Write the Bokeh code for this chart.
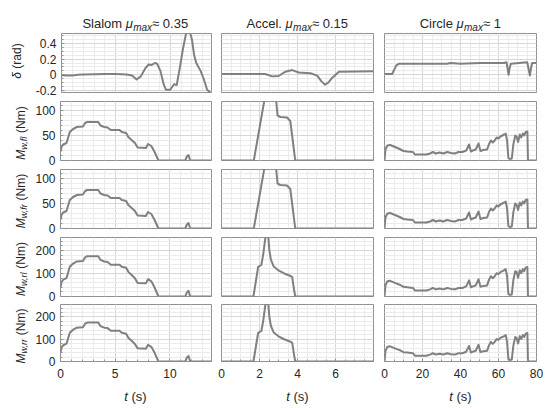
import numpy as np
from bokeh.plotting import figure
from bokeh.layouts import column, row
from bokeh.models import Label, FixedTicker, Range1d
from bokeh.embed import file_html
from bokeh.resources import INLINE

# ---------------- data ----------------
# Slalom
slalom_t_delta = [0, 0.5, 1.0, 1.5, 2, 3, 4, 5, 6, 6.5, 6.9, 7.3, 7.7, 8.0, 8.3, 8.6, 8.8, 9.1,
                  9.4, 9.6, 10.0, 10.2, 10.35, 10.6, 10.9, 11.2, 11.5, 11.8, 12.0, 12.2, 12.4,
                  12.8, 13.1, 13.4, 13.8]
slalom_delta = [-0.005, -0.01, -0.01, 0.0, 0.005, 0.008, 0.01, 0.01, 0.005, -0.01, -0.06, -0.02,
                0.08, 0.13, 0.125, 0.15, 0.14, 0.05, -0.12, -0.19, -0.19, -0.15, -0.12, -0.13,
                0.1, 0.35, 0.55, 0.55, 0.45, 0.25, 0.15, 0.05, -0.06, -0.19, -0.24]
slalom_t_M = [0, 0.1, 0.25, 0.55, 0.85, 1.15, 1.5, 2.05, 2.25, 2.45, 3.45, 3.65, 4.0, 4.3, 4.6,
              5.4, 5.6, 6.0, 6.2, 6.5, 6.8, 7.05, 7.8, 8.0, 8.3, 8.6, 8.95, 11.4, 11.55, 11.7,
              11.85, 13.8]
slalom_Mfl = [18, 28, 32, 35, 57, 63, 67, 68, 75, 77, 77, 70, 67, 66, 61, 61, 57, 55, 47, 41, 35,
              26, 25, 33, 29, 17, 0, 0, 8, 11, 0, 0]
slalom_Mfr = [18, 28, 32, 35, 57, 63, 67, 68, 75, 77, 77, 70, 67, 66, 61, 61, 57, 55, 47, 41, 35,
              26, 25, 33, 29, 17, 0, 0, 8, 11, 0, 0]
slalom_Mrl = [41, 64, 73, 80, 129, 143, 152, 154, 170, 175, 175, 159, 152, 150, 138, 138, 129,
              125, 107, 93, 79, 59, 57, 75, 66, 39, 0, 0, 18, 25, 0, 0]
slalom_Mrr = [41, 64, 73, 80, 129, 143, 152, 154, 170, 175, 175, 159, 152, 150, 138, 138, 129,
              125, 107, 93, 79, 59, 57, 75, 66, 39, 0, 0, 18, 25, 0, 0]

# Acceleration
accel_t_delta = [0, 2.3, 2.67, 3.0, 3.37, 3.72, 4.07, 4.68, 5.04, 5.25, 5.44, 5.62, 5.82, 6.18, 8.0]
accel_delta = [0.01, 0.01, -0.02, -0.015, 0.04, 0.06, 0.03, 0.02, -0.01, -0.08, -0.125, -0.1,
               -0.04, 0.04, 0.045]
accel_t_Mf = [0, 1.7, 2.3, 2.85, 2.95, 3.1, 3.45, 3.62, 3.75, 3.88, 8]
accel_Mfl = [0, 0, 130, 130, 90, 87, 86, 79, 40, 0, 0]
accel_Mfr = [0, 0, 130, 130, 90, 87, 86, 79, 40, 0, 0]
accel_t_Mr = [0, 1.68, 1.93, 2.1, 2.2, 2.3, 2.38, 2.45, 2.52, 2.6, 2.75, 3.0, 3.3, 3.6, 3.72,
              3.8, 3.88, 8]
accel_Mrl = [0, 0, 129, 137, 185, 250, 275, 270, 200, 160, 130, 113, 100, 90, 85, 40, 0, 0]
accel_Mrr = [0, 0, 129, 137, 185, 250, 275, 270, 200, 160, 130, 113, 100, 90, 85, 40, 0, 0]

# Circle
circle_t_delta = [0, 4.0, 5.0, 6.2, 7.5, 20, 33, 34.7, 40, 50.5, 62.8, 64.2, 64.8, 65.3, 65.8,
                  66.5, 75.1, 75.8, 76.5, 77.1, 77.7, 80]
circle_delta = [0.01, 0.01, 0.06, 0.12, 0.14, 0.14, 0.14, 0.15, 0.14, 0.15, 0.15, 0.16, 0.08,
                0.0, 0.08, 0.14, 0.16, 0.08, -0.01, 0.08, 0.15, 0.15]
circle_t_M = [0, 0.5, 1.5, 3, 5.5, 8, 10, 12, 15, 16, 22, 24, 25.5, 27, 29, 31, 33, 35, 37, 39,
              41, 43, 44.5, 45.5, 46.5, 48, 49.5, 50.5, 52, 54, 55, 56, 57, 58, 59, 60, 61, 62,
              63, 63.8, 64.5, 65.2, 66, 67, 67.8, 68.8, 69.5, 70.3, 71.2, 72, 72.8, 73.5, 74.3,
              75.2, 75.5, 80]
circle_Mfl = [0, 22, 30, 31, 27, 23, 19, 18, 17, 12, 12, 14, 17, 14, 16, 14, 17, 15, 14, 17, 17,
              20, 32, 18, 20, 22, 34, 19, 21, 22, 33, 40, 36, 40, 46, 44, 48, 50, 52, 54, 40, 5,
              3, 4, 32, 50, 48, 37, 52, 46, 54, 50, 57, 58, 0, 0]
circle_Mfr = [0, 22, 30, 31, 27, 23, 19, 18, 17, 12, 12, 14, 17, 14, 16, 14, 17, 15, 14, 17, 17,
              20, 32, 18, 20, 22, 34, 19, 21, 22, 33, 40, 36, 40, 46, 44, 48, 50, 52, 54, 40, 5,
              3, 4, 32, 50, 48, 37, 52, 46, 54, 50, 57, 58, 0, 0]
circle_Mrl = [0, 48, 66, 68, 59, 51, 42, 40, 37, 26, 26, 31, 37, 31, 35, 31, 37, 33, 31, 37, 37,
              44, 70, 40, 44, 48, 75, 42, 46, 48, 73, 88, 79, 88, 101, 97, 106, 110, 114, 119,
              88, 11, 7, 9, 70, 110, 106, 81, 114, 101, 119, 110, 125, 128, 0, 0]
circle_Mrr = [0, 48, 66, 68, 59, 51, 42, 40, 37, 26, 26, 31, 37, 31, 35, 31, 37, 33, 31, 37, 37,
              44, 70, 40, 44, 48, 75, 42, 46, 48, 73, 88, 79, 88, 101, 97, 106, 110, 114, 119,
              88, 11, 7, 9, 70, 110, 106, 81, 114, 101, 119, 110, 125, 128, 0, 0]

# titles / labels / ticks
col_title_pre = ["Slalom", "Accel.", "Circle"]
col_title_post = ["\u2248 0.35", "\u2248 0.15", "\u2248 1"]
y_label_subs = [None, "w,fl", "w,fr", "w,rl", "w,rr"]
x_ticks = [[0, 5, 10], [0, 2, 4, 6], [0, 20, 40, 60, 80]]
x_tick_labels = [["0", "5", "10"], ["0", "2", "4", "6"], ["0", "20", "40", "60", "80"]]
y_ticks = [[-0.2, 0, 0.2, 0.4], [0, 50, 100], [0, 50, 100], [0, 100, 200], [0, 100, 200]]
y_tick_labels = [["-0.2", "0", "0.2", "0.4"], ["0", "50", "100"], ["0", "50", "100"],
                 ["0", "100", "200"], ["0", "100", "200"]]

series = [
    [(slalom_t_delta, slalom_delta), (accel_t_delta, accel_delta), (circle_t_delta, circle_delta)],
    [(slalom_t_M, slalom_Mfl), (accel_t_Mf, accel_Mfl), (circle_t_M, circle_Mfl)],
    [(slalom_t_M, slalom_Mfr), (accel_t_Mf, accel_Mfr), (circle_t_M, circle_Mfr)],
    [(slalom_t_M, slalom_Mrl), (accel_t_Mr, accel_Mrl), (circle_t_M, circle_Mrl)],
    [(slalom_t_M, slalom_Mrr), (accel_t_Mr, accel_Mrr), (circle_t_M, circle_Mrr)],
]

# ---------------- styling / layout ----------------
FONT = "Liberation Sans"
TXT = "#262626"
LINE = "#808080"
x_ranges = [(0, 13.8), (0, 8), (0, 80)]
x_minor_step = [1, 0.5, 5]
y_ranges = [(-0.225, 0.525), (0, 118), (0, 118), (0, 256), (0, 256)]
y_minor_step = [0.05, 10, 10, 20, 20]
FW, FH = 152, 59
LABEL_W = 32           # width of the y-label strip
TITLE_H = 31           # height of the title strip
XLAB_H = 26            # height of the x-label strip
border_lr = [(27, 5), (5, 5), (6, 8)]
border_tb = [(2, 7), (2, 7), (2, 7), (2, 7), (1, 17)]

W = {"S": .667, "l": .222, "a": .556, "o": .556, "m": .833, " ": .278, "A": .667, "c": .5,
     "e": .556, ".": .278, "C": .722, "i": .222, "r": .333, "\u03bc": .576, "x": .5,
     "\u2248": .584, "M": .833, "w": .722, ",": .278, "f": .278, "(": .333, ")": .333,
     "N": .722, "d": .556, "t": .278, "s": .5, "\u03b4": .556}


def tw(s, size):
    return sum(W.get(c, 0.556) for c in s) * size


def add_pieces(p, pieces, x0, y0, angle=0.0):
    total = sum(tw(t, s) for t, s, _, _ in pieces)
    pos = -total / 2
    for t, s, st, off in pieces:
        lead = len(t) - len(t.lstrip())
        start = pos + tw(" " * lead, s)
        if angle == 0:
            x, y = x0 + start, y0 + off
        else:
            x, y = x0 + off, y0 + start
        p.add_layout(Label(x=x, y=y, x_units="screen", y_units="screen", text=t.strip(),
                           angle=angle, text_font=FONT, text_font_size=f"{s}px",
                           text_font_style=st, text_color=TXT, text_align="left",
                           text_baseline="alphabetic"))
        pos += tw(t, s)


def blank(w, h):
    q = figure(width=w, height=h, x_range=Range1d(0, 1), y_range=Range1d(0, 1),
               output_backend="svg", toolbar_location=None, min_border=0,
               min_border_left=0, min_border_right=0, min_border_top=0, min_border_bottom=0)
    q.xaxis.visible = False
    q.yaxis.visible = False
    q.xgrid.visible = False
    q.ygrid.visible = False
    q.outline_line_color = None
    q.background_fill_color = "white"
    q.border_fill_color = "white"
    return q


def minor_list(lo, hi, step):
    n0 = int(np.floor(lo / step)) - 1
    n1 = int(np.ceil(hi / step)) + 1
    return [round(k * step, 6) for k in range(n0, n1 + 1)]


col_w = [border_lr[c][0] + FW + border_lr[c][1] for c in range(3)]
row_h = [border_tb[r][0] + FH + border_tb[r][1] for r in range(5)]

# title strip
title_items = [blank(LABEL_W, TITLE_H)]
for c in range(3):
    q = blank(col_w[c], TITLE_H)
    add_pieces(q, [(col_title_pre[c] + " ", 13, "normal", 0),
                   ("\u03bc", 13, "italic", 0),
                   ("max", 10, "italic", -3.5),
                   (col_title_post[c], 13, "normal", 0)],
               border_lr[c][0] + FW / 2, 8)
    title_items.append(q)

# one tall strip holding all rotated y labels
ystrip = blank(LABEL_W, sum(row_h))
for r in range(5):
    bt, bb = border_tb[r]
    below = sum(row_h[r + 1:])
    yc = below + bb + FH / 2
    if r == 0:
        add_pieces(ystrip, [("\u03b4", 12, "italic", 0), (" (rad)", 12, "normal", 0)],
                   16, yc + 2, angle=np.pi / 2)
    else:
        add_pieces(ystrip, [("M", 12, "italic", 0),
                            (y_label_subs[r], 9, "italic", 3.5),
                            (" (Nm)", 12, "normal", 0)],
                   20, yc - 2, angle=np.pi / 2)

panel_rows = []
for r in range(5):
    bt, bb = border_tb[r]
    items = []
    for c in range(3):
        bl, br = border_lr[c]
        p = figure(width=col_w[c], height=row_h[r],
                   x_range=Range1d(*x_ranges[c]), y_range=Range1d(*y_ranges[r]),
                   output_backend="svg", toolbar_location=None,
                   min_border_left=bl, min_border_right=br,
                   min_border_top=bt, min_border_bottom=bb)
        p.background_fill_color = "white"
        p.border_fill_color = "white"
        p.outline_line_color = "#909090"
        p.outline_line_width = 1

        xt = FixedTicker(ticks=x_ticks[c] + ([8] if c == 1 else []),
                         minor_ticks=minor_list(*x_ranges[c], x_minor_step[c]))
        yt = FixedTicker(ticks=y_ticks[r],
                         minor_ticks=minor_list(*y_ranges[r], y_minor_step[r]))
        p.xaxis.ticker = xt
        p.yaxis.ticker = yt
        p.xgrid.ticker = xt
        p.ygrid.ticker = yt
        for g in (p.xgrid, p.ygrid):
            g.grid_line_color = "#d6d6d6"
            g.grid_line_width = 1
            g.minor_grid_line_color = "#ebebeb"
            g.minor_grid_line_width = 1

        for ax in (p.xaxis[0], p.yaxis[0]):
            ax.axis_line_color = None
            ax.major_tick_in = 3
            ax.major_tick_out = 0
            ax.minor_tick_in = 2
            ax.minor_tick_out = 0
            ax.major_tick_line_color = "#909090"
            ax.minor_tick_line_color = "#909090"
            ax.major_label_text_font = FONT
            ax.major_label_text_font_size = "12px"
            ax.major_label_text_color = TXT

        if c == 0:
            p.yaxis.major_label_overrides = dict(zip(y_ticks[r], y_tick_labels[r]))
            p.yaxis.major_label_standoff = 5
        else:
            p.yaxis.visible = False
        if r == 4:
            ov = dict(zip(x_ticks[c], x_tick_labels[c]))
            if c == 1:
                ov[8] = ""
            p.xaxis.major_label_overrides = ov
            p.xaxis.major_label_standoff = 7
        else:
            p.xaxis.visible = False

        t, v = series[r][c]
        p.line(t, v, line_color=LINE, line_width=2, line_join="round")
        items.append(p)
    panel_rows.append(row(items, spacing=0))

middle = row([ystrip, column(panel_rows, spacing=0)], spacing=0)

# x-label strip
xlab_items = [blank(LABEL_W, XLAB_H)]
for c in range(3):
    q = blank(col_w[c], XLAB_H)
    add_pieces(q, [("t", 13, "italic", 0), (" (s)", 13, "normal", 0)],
               border_lr[c][0] + FW / 2, 10)
    xlab_items.append(q)

page = column([row(title_items, spacing=0), middle, row(xlab_items, spacing=0)], spacing=0)

open("out.html", "w").write(file_html(page, INLINE))
